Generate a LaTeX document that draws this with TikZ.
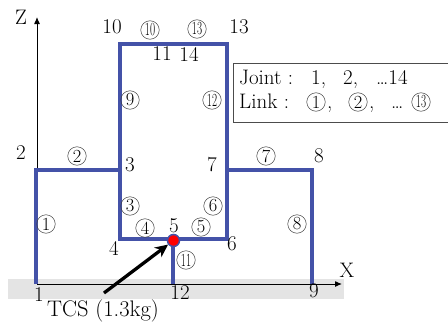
\documentclass[tikz,border=0pt]{standalone}
\usetikzlibrary{arrows.meta}
\definecolor{linkblue}{HTML}{4452A8}
\definecolor{band}{HTML}{E4E4E4}
\newcommand{\nar}[1]{\scalebox{0.6}[1]{#1}}
\tikzset{
  lab/.style={inner sep=0pt,font=\fontsize{21}{24}\selectfont},
  cn/.style={circle,draw=black!75,line width=0.5pt,inner sep=0pt,minimum size=18.5pt,font=\fontsize{18.5}{20}\selectfont},
  linkline/.style={draw=linkblue,line width=4pt,line join=miter},
  axis/.style={draw=black,line width=1pt,-{Latex[length=7pt,width=6pt]}}
}
\begin{document}
\begin{tikzpicture}[x=1pt,y=-1pt]
\useasboundingbox (0,0) rectangle (448,324);
\fill[band] (8,279) rectangle (344,299);
% joints
\coordinate (j1) at (36,284);
\coordinate (j2) at (36,170);
\coordinate (j3) at (120,170);
\coordinate (j4) at (120,239);
\coordinate (j5) at (173,239);
\coordinate (j6) at (227,239);
\coordinate (j7) at (227,170);
\coordinate (j8) at (312,170);
\coordinate (j9) at (312,284);
\coordinate (j10) at (120,44);
\coordinate (j11) at (173,44);
\coordinate (j12) at (173,284);
\coordinate (j13) at (227,44);
\coordinate (xend) at (342,284);
\coordinate (zend) at (37,17);
\coordinate (o) at (37,284);
\draw[axis] (o) -- (xend);
\draw[axis] (o) -- (zend);
\draw[linkline] (j1) -- (j2) -- (j3) -- (j4) -- (j6) -- (j7) -- (j8) -- (j9);
\draw[linkline] (j3) -- (j10) -- (j13) -- (j7);
\draw[linkline] (j5) -- (j12);
\node[circle,fill=red,draw=linkblue,line width=1.5pt,minimum size=12pt,inner sep=0pt] (tcp) at (173.5,240.5) {};
\coordinate (tail) at (104,293);
\draw[line width=3.3pt,-{Stealth[length=13pt,width=12pt]}] (tail) -- (tcp);
% joint labels
\node[lab] (n1) at (39,295) {1};
\node[lab] (n2) at (21,153) {2};
\node[lab] (n3) at (130,165) {3};
\node[lab] (n4) at (114,248) {4};
\node[lab] (n5) at (174,226) {5};
\node[lab] (n6) at (232,244) {6};
\node[lab] (n7) at (212,165) {7};
\node[lab] (n8) at (319,156) {8};
\node[lab] (n9) at (314,291) {9};
\node[lab] (n10) at (112,27) {10};
\node[lab] (n11) at (162,54) {11};
\node[lab] (n12) at (180,293) {12};
\node[lab] (n13) at (239,27) {13};
\node[lab] (n14) at (189,54) {14};
\node[lab] (nz) at (21,17) {Z};
\node[lab] (nx) at (347,270) {X};
\node[lab,font=\fontsize{22.5}{24}\selectfont] (tcs) at (103,311) {TCS (1.3kg)};
% link labels
\node[cn] (l1) at (46,224) {1};
\node[cn] (l2) at (77,156) {2};
\node[cn] (l3) at (130,206) {3};
\node[cn] (l4) at (145,228) {4};
\node[cn] (l5) at (201,227) {5};
\node[cn] (l6) at (213,206) {6};
\node[cn] (l7) at (266,156) {7};
\node[cn] (l8) at (297,224) {8};
\node[cn] (l9) at (130,100) {9};
\node[cn] (l10) at (150,30) {\nar{10}};
\node[cn] (l11) at (186,260) {\nar{11}};
\node[cn] (l12) at (212,100) {\nar{12}};
\node[cn] (l13) at (197,29) {\nar{13}};
% legend
\draw[draw=black!70,line width=0.8pt] (449,63) -- (233,63) -- (233,122) -- (449,122);
\node[lab,anchor=base west] (jt) at (239,84) {Joint :};
\node[lab,anchor=base west] (j1t) at (311,84) {1,};
\node[lab,anchor=base west] (j2t) at (343,84) {2,};
\node[lab,anchor=base west] (j3t) at (376,84) {\ldots14};
\node[lab,anchor=base west] (lt) at (239,108.5) {Link :};
\node[cn] (c1) at (316,102) {1};
\node[lab,anchor=base west] (c1c) at (327,108.5) {,};
\node[cn] (c2) at (358,102) {2};
\node[lab,anchor=base west] (c2c) at (369,108.5) {,};
\node[lab,anchor=base west] (c3d) at (391,108.5) {\ldots};
\node[cn] (c13) at (421,102) {\nar{13}};
\end{tikzpicture}
\end{document}
